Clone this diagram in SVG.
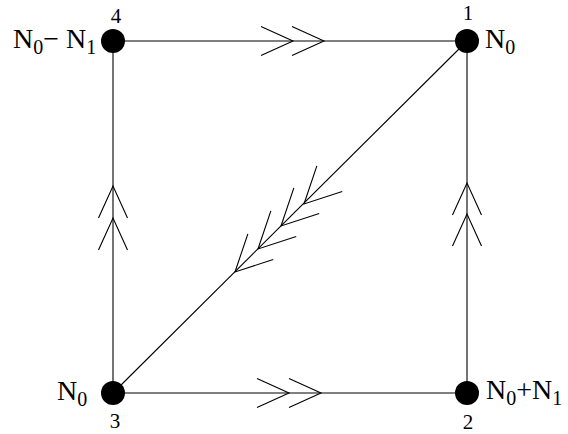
<svg xmlns="http://www.w3.org/2000/svg" width="568" height="434" viewBox="0 0 568 434">
<style>
.e{stroke:#000;stroke-width:1.1;fill:none}
.n{fill:#000}
text{font-family:"Liberation Serif","Times New Roman",serif;fill:#000}
.big{font-size:28px}
.sub{font-size:20px}
.num{font-size:21px;text-anchor:middle}
</style>
<defs>
<path id="ch" d="M-32,-14.5 L0,0 L-32,14.5" class="e"/>
<path id="chd" d="M-36,-18 L0,0 L-36,18" class="e"/>
</defs>
<g id="connectors">
<line class="e" x1="113" y1="41" x2="467" y2="41"/>
<line class="e" x1="113" y1="393" x2="467" y2="393"/>
<line class="e" x1="113" y1="41" x2="113" y2="393"/>
<line class="e" x1="467" y1="41" x2="467" y2="393"/>
<line class="e" x1="467" y1="41" x2="113" y2="393"/>
<use href="#ch" transform="translate(293,41)"/>
<use href="#ch" transform="translate(324,41)"/>
<use href="#ch" transform="translate(289,393)"/>
<use href="#ch" transform="translate(321,393)"/>
<use href="#ch" transform="translate(113,186) rotate(-90)"/>
<use href="#ch" transform="translate(113,218) rotate(-90)"/>
<use href="#ch" transform="translate(467,183) rotate(-90)"/>
<use href="#ch" transform="translate(467,214) rotate(-90)"/>
<use href="#chd" transform="translate(235,272) rotate(135.2)"/>
<use href="#chd" transform="translate(258,249) rotate(135.2)"/>
<use href="#chd" transform="translate(281,226) rotate(135.2)"/>
<use href="#chd" transform="translate(304,204) rotate(135.2)"/>
</g>
<g id="node1">
<circle class="n" cx="467" cy="41" r="12"/>
<text class="num" x="468" y="20">1</text>
<text class="big" x="485" y="48">N<tspan class="sub" dy="6">0</tspan></text>
</g>
<g id="node2">
<circle class="n" cx="467" cy="393" r="12"/>
<text class="num" x="468" y="429">2</text>
<text class="big" x="486" y="399">N<tspan class="sub" dy="6">0</tspan><tspan dy="-6">+N</tspan><tspan class="sub" dy="6">1</tspan></text>
</g>
<g id="node3">
<circle class="n" cx="113" cy="393" r="12"/>
<text class="num" x="115" y="428">3</text>
<text class="big" x="57" y="400">N<tspan class="sub" dy="6">0</tspan></text>
</g>
<g id="node4">
<circle class="n" cx="113" cy="41" r="12"/>
<text class="num" x="116" y="23">4</text>
<text class="big" x="13" y="48">N<tspan class="sub" dy="6">0</tspan><tspan dy="-6">− N</tspan><tspan class="sub" dy="6">1</tspan></text>
</g>
</svg>
